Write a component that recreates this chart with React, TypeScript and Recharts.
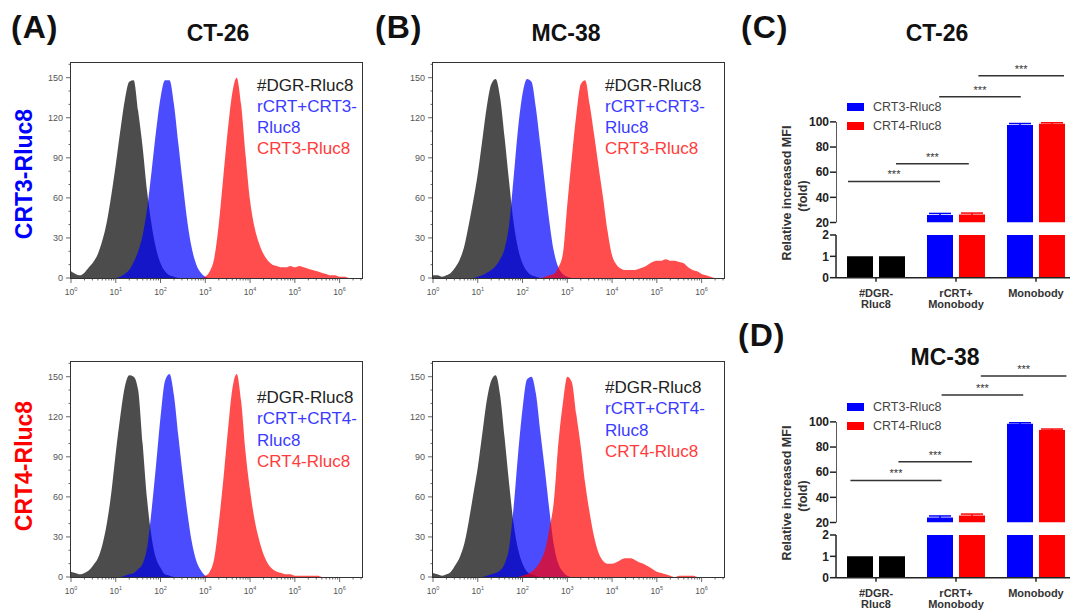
import React from 'react';
import {
  AreaChart,
  Area,
  BarChart,
  Bar,
  Cell,
  ErrorBar,
  ScatterChart,
  Scatter,
  XAxis,
  YAxis,
  ReferenceLine,
} from 'recharts';

// log10 of fluorescence intensity, one histogram bin every 0.1 decade
const logBins = [
  0, 0.1, 0.2, 0.3, 0.4, 0.5, 0.6, 0.7, 0.8, 0.9,
  1, 1.1, 1.2, 1.3, 1.4, 1.5, 1.6, 1.7, 1.8, 1.9,
  2, 2.1, 2.2, 2.3, 2.4, 2.5, 2.6, 2.7, 2.8, 2.9,
  3, 3.1, 3.2, 3.3, 3.4, 3.5, 3.6, 3.7, 3.8, 3.9,
  4, 4.1, 4.2, 4.3, 4.4, 4.5, 4.6, 4.7, 4.8, 4.9,
  5, 5.1, 5.2, 5.3, 5.4, 5.5, 5.6, 5.7, 5.8, 5.9,
  6, 6.1, 6.2, 6.3, 6.4, 6.5,
];

type Hist = { from: number; counts: number[] };

// CT-26, CRT3-Rluc8
const ct26Crt3Dgr: Hist = { from: 0, counts: [5, 3, 2, 4, 8, 12, 18, 28, 42, 62, 85, 110, 133, 147, 148, 125, 98, 65, 40, 22, 11, 5, 2, 1, 0] };
const ct26Crt3Rcrt: Hist = { from: 1, counts: [0, 1, 3, 6, 12, 20, 32, 52, 80, 110, 135, 148, 148, 130, 100, 70, 42, 22, 10, 4, 1, 0] };
const ct26Crt3: Hist = { from: 2.9, counts: [0, 1, 5, 15, 40, 75, 110, 138, 150, 130, 92, 58, 38, 26, 18, 13, 10, 9, 8, 8, 9, 8, 9, 8, 7, 6, 5, 4, 3, 2, 2, 1, 1, 0] };

// MC-38, CRT3-Rluc8
const mc38Crt3Dgr: Hist = { from: 0, counts: [2, 2, 1, 2, 4, 8, 14, 24, 40, 58, 78, 103, 128, 145, 149, 135, 105, 72, 42, 22, 11, 5, 2, 1, 0] };
const mc38Crt3Rcrt: Hist = { from: 0.9, counts: [0, 1, 2, 4, 6, 9, 14, 22, 40, 75, 112, 138, 149, 147, 127, 99, 70, 42, 20, 8, 3, 1, 0] };
const mc38Crt3: Hist = { from: 2.4, counts: [0, 1, 2, 3, 8, 18, 55, 90, 122, 145, 148, 130, 107, 83, 60, 35, 17, 10, 7, 6, 6, 6, 7, 8, 10, 12, 13, 13, 14, 13, 13, 12, 11, 8, 6, 5, 3, 2, 1, 0] };

// CT-26, CRT4-Rluc8
const ct26Crt4Dgr: Hist = { from: 0, counts: [4, 3, 2, 3, 5, 9, 14, 24, 40, 63, 93, 120, 142, 151, 150, 140, 100, 58, 30, 14, 7, 2, 1, 0] };
const ct26Crt4Rcrt: Hist = { from: 1.1, counts: [0, 1, 2, 3, 6, 10, 22, 50, 84, 120, 147, 152, 136, 105, 75, 48, 26, 12, 5, 1, 0] };
const ct26Crt4: Hist = { from: 2.9, counts: [0, 1, 4, 14, 40, 72, 108, 140, 152, 132, 93, 65, 43, 28, 17, 10, 6, 4, 3, 2, 2, 1, 1, 1, 1, 1, 1, 0] };

// MC-38, CRT4-Rluc8
const mc38Crt4Dgr: Hist = { from: 0, counts: [3, 2, 1, 2, 4, 9, 15, 25, 42, 62, 82, 107, 132, 147, 151, 136, 104, 70, 40, 21, 10, 4, 2, 1, 0] };
const mc38Crt4Rcrt: Hist = { from: 1.1, counts: [0, 1, 2, 3, 5, 10, 22, 52, 92, 126, 148, 150, 137, 108, 80, 50, 24, 10, 4, 1, 0] };
const mc38Crt4: Hist = { from: 1.9, counts: [0, 1, 2, 4, 7, 12, 20, 36, 57, 100, 130, 150, 146, 122, 98, 70, 48, 30, 18, 12, 10, 10, 11, 13, 14, 14, 13, 11, 10, 8, 6, 4, 3, 2, 1, 0, 1, 1, 1, 1, 0] };

const histYTicks = [0, 10, 20, 30, 40, 50, 60, 70, 80, 90, 100, 110, 120, 130, 140, 150, 160];
const decades = [0, 1, 2, 3, 4, 5, 6];

// bar charts (relative increased MFI, fold)
const mfiGroups = ['#DGR-\nRluc8', 'rCRT+\nMonobody', 'Monobody'];
const ct26Crt3Mfi = [1, 26, 97.5];
const ct26Crt4Mfi = [1, 26.3, 98.5];
const ct26Crt3Err = [0, 1.2, 1.2];
const ct26Crt4Err = [0, 1.2, 0.8];
const mc38Crt3Mfi = [1, 24, 98.5];
const mc38Crt4Mfi = [1, 25.5, 93.5];
const mc38Crt3Err = [0, 1.2, 0.8];
const mc38Crt4Err = [0, 1.2, 0.8];

// significance bars: x in group units (0..3), y in fold
const ct26Sig = [
  { from: 0.15, to: 1.3, y: 52.6 },
  { from: 0.75, to: 1.66, y: 66.7 },
  { from: 1.29, to: 2.31, y: 120 },
  { from: 1.78, to: 2.85, y: 136.6 },
];
const mc38Sig = [
  { from: 0.18, to: 1.32, y: 53.4 },
  { from: 0.78, to: 1.7, y: 68.3 },
  { from: 1.32, to: 2.34, y: 121.3 },
  { from: 1.81, to: 2.88, y: 136.4 },
];

const FONT = '"Liberation Sans", Arial, sans-serif';
const BLUE = '#0000ff';
const RED = '#ff0000';

const countAt = (h: Hist, bin: number) => {
  const i = Math.round((bin - h.from) * 10);
  return i >= 0 && i < h.counts.length ? h.counts[i] : null;
};

const histRows = (dgr: Hist, rcrt: Hist, crt: Hist) =>
  logBins.map((x) => ({ x, dgr: countAt(dgr, x), rcrt: countAt(rcrt, x), crt: countAt(crt, x) }));

const histXTicks = decades
  .flatMap((d) => [d, ...[2, 3, 4, 5, 6, 7, 8, 9].map((k) => d + Math.log10(k))])
  .filter((t) => t <= 6.5);

const LogTick = (props: any) => {
  const { x, y, payload } = props;
  const v = payload.value;
  const axisY = y - 7;
  const major = Math.abs(v - Math.round(v)) < 1e-6;
  return (
    <g>
      <line x1={x} x2={x} y1={axisY} y2={axisY + (major ? 5 : 2.5)} stroke="#444" strokeWidth={0.8} />
      {major && (
        <text x={x} y={axisY + 17} textAnchor="middle" fontSize={8.5} fill="#555">
          10
          <tspan fontSize={5.5} dy={-4}>
            {Math.round(v)}
          </tspan>
        </text>
      )}
    </g>
  );
};

const CountTick = (props: any) => {
  const { x, y, payload } = props;
  const axisX = x + 8;
  const major = payload.value % 30 === 0;
  return (
    <g>
      <line x1={axisX - (major ? 5 : 2.5)} x2={axisX} y1={y} y2={y} stroke="#444" strokeWidth={0.8} />
      {major && (
        <text x={axisX - 8} y={y} dy="0.35em" textAnchor="end" fontSize={9} fill="#555">
          {payload.value}
        </text>
      )}
    </g>
  );
};

const HIST_W = 291;
const HIST_H = 215;
const HIST_YAXIS = 40;
const HIST_XAXIS = 25;
const HIST_XMAX = 6.5;
const HIST_YMAX = 161;

type LegendLine = { text: string; color: string };

const Histogram = ({ left, top, rows, legend, legendLeft, legendTop }: {
  left: number; top: number; rows: any[]; legend: LegendLine[]; legendLeft: number; legendTop: number;
}) => (
  <>
    <div style={{ position: 'absolute', left: left - HIST_YAXIS, top: top - 2 }}>
      <AreaChart
        width={HIST_YAXIS + HIST_W + 4}
        height={2 + HIST_H + HIST_XAXIS}
        data={rows}
        margin={{ top: 2, right: 4, bottom: 0, left: 0 }}
      >
        <XAxis
          type="number"
          dataKey="x"
          domain={[0, HIST_XMAX]}
          ticks={histXTicks}
          interval={0}
          allowDataOverflow
          tick={(p: any) => <LogTick {...p} />}
          tickLine={false}
          axisLine={false}
          tickSize={5}
          tickMargin={2}
          height={HIST_XAXIS}
        />
        <YAxis
          type="number"
          domain={[0, HIST_YMAX]}
          ticks={histYTicks}
          interval={0}
          allowDataOverflow
          tick={(p: any) => <CountTick {...p} />}
          tickLine={false}
          axisLine={false}
          tickSize={6}
          tickMargin={2}
          width={HIST_YAXIS}
        />
        <Area dataKey="dgr" type="monotone" fill="#000000" fillOpacity={0.7} stroke="none" isAnimationActive={false} />
        <Area dataKey="rcrt" type="monotone" fill={BLUE} fillOpacity={0.7} stroke="none" isAnimationActive={false} />
        <Area dataKey="crt" type="monotone" fill={RED} fillOpacity={0.7} stroke="none" isAnimationActive={false} />
      </AreaChart>
    </div>
    {/* box around the plot area */}
    <div
      style={{
        position: 'absolute', left: left - 0.75, top: top - 0.75, width: HIST_W + 1.5, height: HIST_H + 1.5,
        border: '1.5px solid #333', boxSizing: 'border-box', pointerEvents: 'none',
      }}
    />
    <div style={{ position: 'absolute', left: legendLeft, top: legendTop, fontSize: 17, lineHeight: '21.3px', whiteSpace: 'nowrap' }}>
      {legend.map((l, i) => (
        <div key={i} style={{ color: l.color }}>{l.text}</div>
      ))}
    </div>
  </>
);

const GroupTick = (props: any) => {
  const { x, y, payload } = props;
  const lines = String(payload.value).split('\n');
  return (
    <text x={x} y={y + 13} textAnchor="middle" fontSize={11} fontWeight="bold" fill="#333">
      {lines.map((t, i) => (
        <tspan key={i} x={x} dy={i === 0 ? 0 : 11.5}>{t}</tspan>
      ))}
    </text>
  );
};

const MFI_LEFT = 836;
const MFI_BAND = 80;
const MFI_YAXIS = 40;
const UPPER_TOP = 59.2;
const UPPER_H = 163.5;
const LOWER_TOP = 235;
const LOWER_H = 42.7;

const MfiChart = ({ offset, crt3, crt4, err3, err4, sig }: {
  offset: number; crt3: number[]; crt4: number[]; err3: number[]; err4: number[];
  sig: { from: number; to: number; y: number }[];
}) => {
  const upperRows = mfiGroups.map((group, i) => ({
    group,
    crt3: crt3[i] >= 20 ? crt3[i] : null,
    crt4: crt4[i] >= 20 ? crt4[i] : null,
    err3: err3[i],
    err4: err4[i],
  }));
  const lowerRows = mfiGroups.map((group, i) => ({
    group,
    crt3: Math.min(crt3[i], 2),
    crt4: Math.min(crt4[i], 2),
  }));
  const plotW = MFI_BAND * mfiGroups.length;
  const cellFill = (i: number, c: string) => (i === 0 ? '#000000' : c);
  const yTickStyle = { fontSize: 12, fontWeight: 'bold', fill: '#222' };
  return (
    <>
      <div style={{ position: 'absolute', left: MFI_LEFT - MFI_YAXIS, top: UPPER_TOP + offset }}>
        <BarChart
          width={MFI_YAXIS + plotW}
          height={UPPER_H + 8}
          data={upperRows}
          margin={{ top: 0, right: 0, bottom: 8, left: 0 }}
          barSize={26}
          barGap={6}
        >
          <XAxis dataKey="group" hide />
          <YAxis
            type="number"
            domain={[20, 150]}
            ticks={[20, 40, 60, 80, 100]}
            interval={0}
            allowDataOverflow
            axisLine={false}
            tickSize={6}
            tickMargin={1}
            tickLine={{ stroke: '#222', strokeWidth: 1.5 }}
            tick={yTickStyle}
            width={MFI_YAXIS}
          />
          <Bar dataKey="crt3" name="CRT3-Rluc8" fill={BLUE} isAnimationActive={false}>
            {upperRows.map((_, i) => <Cell key={i} fill={cellFill(i, BLUE)} />)}
            <ErrorBar dataKey="err3" width={11} stroke={BLUE} strokeWidth={1.5} direction="y" />
          </Bar>
          <Bar dataKey="crt4" name="CRT4-Rluc8" fill={RED} isAnimationActive={false}>
            {upperRows.map((_, i) => <Cell key={i} fill={cellFill(i, RED)} />)}
            <ErrorBar dataKey="err4" width={11} stroke={RED} strokeWidth={1.5} direction="y" />
          </Bar>
        </BarChart>
      </div>
      {/* upper axis line and significance bars, on a numeric overlay of the same plot area */}
      <div style={{ position: 'absolute', left: MFI_LEFT, top: UPPER_TOP + offset }}>
        <ScatterChart width={plotW} height={UPPER_H} margin={{ top: 0, right: 0, bottom: 0, left: 0 }}>
          <XAxis type="number" dataKey="x" domain={[0, mfiGroups.length]} allowDataOverflow hide />
          <YAxis type="number" dataKey="y" domain={[20, 150]} allowDataOverflow hide />
          <Scatter data={[]} isAnimationActive={false} />
          <ReferenceLine segment={[{ x: 0, y: 20 }, { x: 0, y: 100 }]} stroke="#222" strokeWidth={1.5} />
          {sig.map((s, i) => (
            <ReferenceLine
              key={i}
              segment={[{ x: s.from, y: s.y }, { x: s.to, y: s.y }]}
              stroke="#333"
              strokeWidth={1.5}
              label={{ value: '***', position: 'top', fill: '#333', fontSize: 11, offset: 3 }}
            />
          ))}
        </ScatterChart>
      </div>
      <div style={{ position: 'absolute', left: MFI_LEFT - MFI_YAXIS, top: LOWER_TOP + offset - 8 }}>
        <BarChart
          width={MFI_YAXIS + plotW}
          height={8 + LOWER_H + 40}
          data={lowerRows}
          margin={{ top: 8, right: 0, bottom: 0, left: 0 }}
          barSize={26}
          barGap={6}
        >
          <XAxis
            dataKey="group"
            height={40}
            interval={0}
            tickSize={4}
            tickLine={{ stroke: '#222', strokeWidth: 1.5 }}
            axisLine={{ stroke: '#222', strokeWidth: 1.5 }}
            tick={(p: any) => <GroupTick {...p} />}
          />
          <YAxis
            type="number"
            domain={[0, 2]}
            ticks={[0, 1, 2]}
            interval={0}
            allowDataOverflow
            tickSize={6}
            tickMargin={1}
            axisLine={{ stroke: '#222', strokeWidth: 1.5 }}
            tickLine={{ stroke: '#222', strokeWidth: 1.5 }}
            tick={yTickStyle}
            width={MFI_YAXIS}
          />
          <Bar dataKey="crt3" fill={BLUE} isAnimationActive={false}>
            {lowerRows.map((_, i) => <Cell key={i} fill={cellFill(i, BLUE)} />)}
          </Bar>
          <Bar dataKey="crt4" fill={RED} isAnimationActive={false}>
            {lowerRows.map((_, i) => <Cell key={i} fill={cellFill(i, RED)} />)}
          </Bar>
        </BarChart>
      </div>
      {/* legend */}
      {[{ name: 'CRT3-Rluc8', color: BLUE }, { name: 'CRT4-Rluc8', color: RED }].map((l, i) => (
        <div
          key={l.name}
          style={{ position: 'absolute', left: 847, top: 99 + offset + i * 18.6, height: 16, display: 'flex', alignItems: 'center', fontSize: 12.5, color: '#444' }}
        >
          <span style={{ display: 'inline-block', width: 17, height: 8, background: l.color, marginRight: 9 }} />
          {l.name}
        </div>
      ))}
      {/* y axis title */}
      <div style={{ position: 'absolute', left: 787 - 90, top: 193 + offset - 8, width: 180, height: 16, lineHeight: '16px', textAlign: 'center', transform: 'rotate(-90deg)', fontSize: 12.5, fontWeight: 'bold', color: '#333' }}>
        Relative increased MFI
      </div>
      <div style={{ position: 'absolute', left: 803 - 40, top: 196 + offset - 8, width: 80, height: 16, lineHeight: '16px', textAlign: 'center', transform: 'rotate(-90deg)', fontSize: 12.5, fontWeight: 'bold', color: '#333' }}>
        (fold)
      </div>
    </>
  );
};

const Label = ({ x, y, size, children, color = '#111', center = false, spacing = 0 }: any) => (
  <div
    style={{
      position: 'absolute',
      left: center ? x - 100 : x,
      width: center ? 200 : undefined,
      textAlign: center ? 'center' : 'left',
      top: y,
      fontSize: size,
      lineHeight: 1,
      fontWeight: 'bold',
      color,
      letterSpacing: spacing,
      whiteSpace: 'nowrap',
    }}
  >
    {children}
  </div>
);

const RowLabel = ({ cx, cy, color, children }: any) => (
  <div
    style={{
      position: 'absolute', left: cx - 90, top: cy - 13, width: 180, height: 26, lineHeight: '26px',
      textAlign: 'center', transform: 'rotate(-90deg)', fontSize: 23, fontWeight: 'bold', color,
    }}
  >
    {children}
  </div>
);

const legendLines = (construct: string) => [
  { text: '#DGR-Rluc8', color: '#222' },
  { text: `rCRT+${construct}-`, color: '#3b3bff' },
  { text: 'Rluc8', color: '#3b3bff' },
  { text: `${construct}-Rluc8`, color: '#ff3b3b' },
];

export default function App() {
  return (
    <div style={{ position: 'absolute', left: 0, top: 0, width: 1070, height: 612, overflow: 'hidden', background: '#fff', fontFamily: FONT }}>
      <Label x={11} y={11} size={32} spacing={1}>(A)</Label>
      <Label x={218} y={22} size={23} center>CT-26</Label>
      <Label x={375} y={11} size={32} spacing={1}>(B)</Label>
      <Label x={566} y={22} size={23} center>MC-38</Label>
      <Label x={741} y={11} size={32} spacing={1}>(C)</Label>
      <Label x={937} y={22} size={23} center>CT-26</Label>
      <Label x={738} y={319} size={32} spacing={1}>(D)</Label>
      <Label x={945} y={346} size={23} center>MC-38</Label>

      <RowLabel cx={24} cy={174} color={BLUE}>CRT3-Rluc8</RowLabel>
      <RowLabel cx={24} cy={466} color={RED}>CRT4-Rluc8</RowLabel>

      <Histogram left={71} top={63} rows={histRows(ct26Crt3Dgr, ct26Crt3Rcrt, ct26Crt3)} legend={legendLines('CRT3')} legendLeft={257} legendTop={74.5} />
      <Histogram left={433} top={63} rows={histRows(mc38Crt3Dgr, mc38Crt3Rcrt, mc38Crt3)} legend={legendLines('CRT3')} legendLeft={605} legendTop={74.5} />
      <Histogram left={71} top={362} rows={histRows(ct26Crt4Dgr, ct26Crt4Rcrt, ct26Crt4)} legend={legendLines('CRT4')} legendLeft={257} legendTop={387} />
      <Histogram left={433} top={362} rows={histRows(mc38Crt4Dgr, mc38Crt4Rcrt, mc38Crt4)} legend={legendLines('CRT4')} legendLeft={605} legendTop={377} />

      <MfiChart offset={0} crt3={ct26Crt3Mfi} crt4={ct26Crt4Mfi} err3={ct26Crt3Err} err4={ct26Crt4Err} sig={ct26Sig} />
      <MfiChart offset={300} crt3={mc38Crt3Mfi} crt4={mc38Crt4Mfi} err3={mc38Crt3Err} err4={mc38Crt4Err} sig={mc38Sig} />
    </div>
  );
}
